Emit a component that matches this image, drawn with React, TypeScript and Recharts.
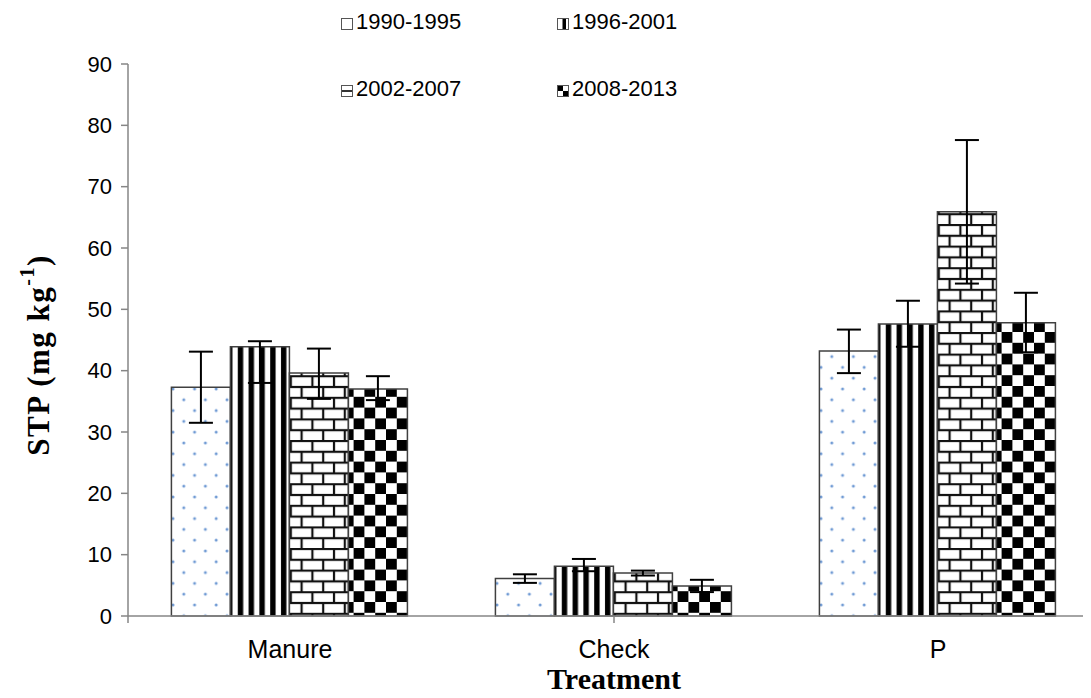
import { BarChart, Bar, XAxis, YAxis, ErrorBar, Label } from 'recharts';

const categories = ['Manure', 'Check', 'P'];
const seriesNames = ['1990-1995', '1996-2001', '2002-2007', '2008-2013'];

const stp1990 = [37.3, 6.1, 43.2];
const stp1996 = [43.9, 8.1, 47.6];
const stp2002 = [39.6, 7.0, 65.9];
const stp2008 = [37.0, 4.9, 47.8];

// [minus, plus]
const err1990 = [[5.8, 5.8], [0.7, 0.7], [3.6, 3.5]];
const err1996 = [[5.9, 0.9], [0.8, 1.2], [3.7, 3.8]];
const err2002 = [[4.2, 4.0], [0.4, 0.4], [11.7, 11.7]];
const err2008 = [[1.8, 2.1], [1.0, 1.0], [4.8, 4.9]];

const yTicks = [0, 10, 20, 30, 40, 50, 60, 70, 80, 90];
const boundaryTicks = [0, 1, 2, 3];

const data = categories.map((name, i) => ({
  name,
  s1: stp1990[i],
  s2: stp1996[i],
  s3: stp2002[i],
  s4: stp2008[i],
  e1: err1990[i],
  e2: err1996[i],
  e3: err2002[i],
  e4: err2008[i],
}));

const AXIS = '#868686';
const SANS = '"Liberation Sans", Arial, sans-serif';
const SERIF = '"Liberation Serif", "Times New Roman", serif';

const Patterns = () => (
  <defs>
    <pattern id="pDots" width={21.6} height={21.6} patternUnits="userSpaceOnUse">
      <rect width={21.6} height={21.6} fill="#fff" />
      <circle cx={3} cy={3} r={1.5} fill="#6f9ad4" />
      <circle cx={13.8} cy={13.8} r={1.5} fill="#6f9ad4" />
    </pattern>
    <pattern id="pStripes" width={10.8} height={10.8} patternUnits="userSpaceOnUse">
      <rect width={10.8} height={10.8} fill="#fff" />
      <rect x={3} width={5.4} height={10.8} fill="#000" />
    </pattern>
    <pattern id="pBricks" width={21.6} height={21.6} patternUnits="userSpaceOnUse">
      <rect width={21.6} height={21.6} fill="#fff" />
      <line x1={0} y1={1} x2={21.6} y2={1} stroke="#111" strokeWidth={2.2} />
      <line x1={0} y1={11.8} x2={21.6} y2={11.8} stroke="#111" strokeWidth={2.2} />
      <line x1={2} y1={1} x2={2} y2={11.8} stroke="#111" strokeWidth={2.2} />
      <line x1={12.8} y1={11.8} x2={12.8} y2={21.6} stroke="#111" strokeWidth={2.2} />
    </pattern>
    <pattern id="pChecker" width={21.6} height={21.6} patternUnits="userSpaceOnUse">
      <rect width={21.6} height={21.6} fill="#fff" />
      <rect x={0} y={0} width={10.8} height={10.8} fill="#000" />
      <rect x={10.8} y={10.8} width={10.8} height={10.8} fill="#000" />
    </pattern>
  </defs>
);

const LegendIcon = ({ kind }: { kind: number }) => (
  <svg width={12} height={12} style={{ display: 'inline-block', marginRight: 3, verticalAlign: -1 }}>
    <rect x={0.5} y={0.5} width={11} height={11} fill="#fff" stroke="#555" />
    {kind === 1 && <rect x={5.5} y={1} width={3.5} height={10} fill="#000" />}
    {kind === 2 && <line x1={1} y1={6} x2={11} y2={6} stroke="#000" strokeWidth={1.6} />}
    {kind === 3 && (
      <>
        <rect x={1} y={1} width={5} height={5} fill="#000" />
        <rect x={6} y={6} width={5} height={5} fill="#000" />
      </>
    )}
  </svg>
);

const legendPos = [
  { left: 333, top: 1 },
  { left: 549, top: 1 },
  { left: 333, top: 68 },
  { left: 549, top: 68 },
];

const YTitle = (props: any) => {
  const vb = props.viewBox;
  const x = vb.x + 30;
  const y = vb.y + vb.height / 2 + 15;
  return (
    <text
      x={x}
      y={y}
      transform={`rotate(-90, ${x}, ${y})`}
      textAnchor="middle"
      dominantBaseline="central"
      fontFamily={SERIF}
      fontWeight="bold"
      fontSize={31}
      letterSpacing={1.5}
      fill="#000"
    >
      STP (mg kg<tspan dy={-11} fontSize={20}>-1</tspan>
      <tspan dy={11}>)</tspan>
    </text>
  );
};

const XTitle = (props: any) => {
  const vb = props.viewBox;
  return (
    <text
      x={vb.x + vb.width / 2}
      y={vb.y + 72}
      textAnchor="middle"
      fontFamily={SERIF}
      fontWeight="bold"
      fontSize={30}
      fill="#000"
    >
      Treatment
    </text>
  );
};

const fills = ['url(#pDots)', 'url(#pStripes)', 'url(#pBricks)', 'url(#pChecker)'];
const keys = ['s1', 's2', 's3', 's4'];
const errKeys = ['e1', 'e2', 'e3', 'e4'];

export default function App() {
  return (
    <div style={{ position: 'relative', width: 1083, height: 690, overflow: 'hidden', background: '#fff' }}>
      <BarChart
        width={1092}
        height={690}
        data={data}
        margin={{ top: 56, right: 0, bottom: 0, left: 0 }}
        barCategoryGap="13.4%"
        barGap={0}
      >
        <Patterns />
        <XAxis
          xAxisId="treat"
          dataKey="name"
          height={81}
          axisLine={false}
          tickLine={false}
          tickSize={0}
          tickMargin={23}
          tick={{ fill: '#000', fontSize: 25, fontFamily: SANS }}
        >
          <Label content={XTitle} />
        </XAxis>
        <XAxis
          xAxisId="edges"
          type="number"
          domain={[0, 3]}
          ticks={boundaryTicks}
          height={1}
          axisLine={{ stroke: AXIS, strokeWidth: 1.5 }}
          tickLine={{ stroke: AXIS, strokeWidth: 1.5 }}
          tickSize={7}
          tickFormatter={() => ''}
          allowDataOverflow
        />
        <YAxis
          width={120}
          domain={[0, 90]}
          ticks={yTicks}
          interval={0}
          axisLine={{ stroke: AXIS, strokeWidth: 1.5 }}
          tickLine={{ stroke: AXIS, strokeWidth: 1.5 }}
          tickSize={7}
          tickMargin={9}
          tick={{ fill: '#000', fontSize: 22, fontFamily: SANS }}
        >
          <Label content={YTitle} />
        </YAxis>
        {keys.map((k, i) => (
          <Bar
            key={k}
            xAxisId="treat"
            dataKey={k}
            name={seriesNames[i]}
            fill={fills[i]}
            stroke="#404040"
            strokeWidth={1.5}
            isAnimationActive={false}
          >
            <ErrorBar dataKey={errKeys[i]} direction="y" width={12} stroke="#000" strokeWidth={2} />
          </Bar>
        ))}
      </BarChart>
      {seriesNames.map((s, i) => (
        <div
          key={s}
          style={{
            position: 'absolute',
            left: legendPos[i].left,
            top: legendPos[i].top,
            fontFamily: SANS,
            fontSize: 22,
            lineHeight: '26px',
            color: '#000',
            whiteSpace: 'nowrap',
          }}
        >
          <LegendIcon kind={i} />
          {s}
        </div>
      ))}
    </div>
  );
}
